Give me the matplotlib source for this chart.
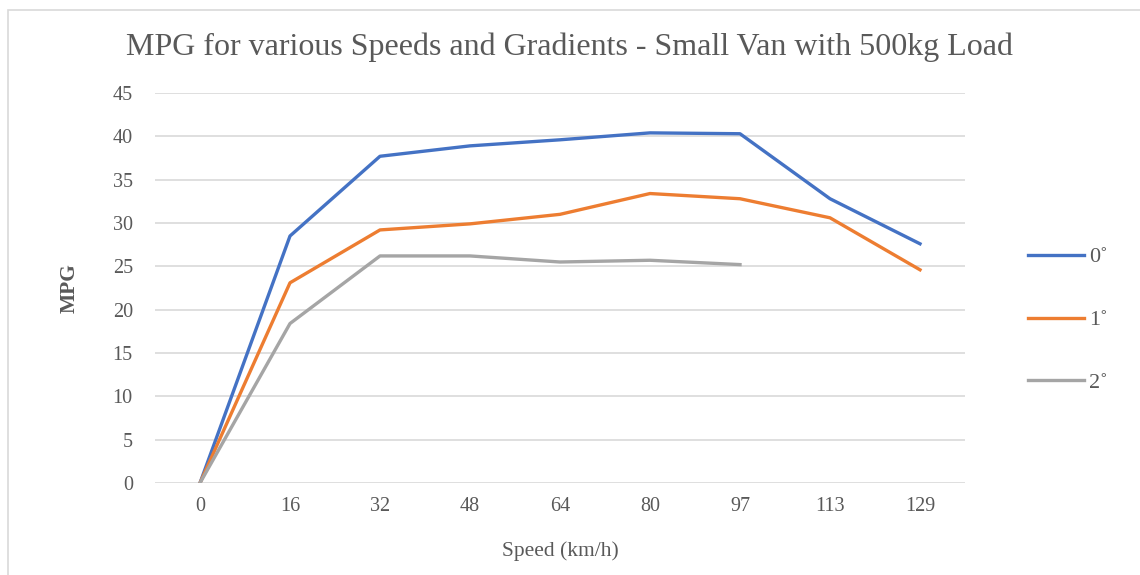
"""MPG for various speeds and gradients - small van with 500kg load."""
import numpy as np
import matplotlib
matplotlib.use("Agg")
import matplotlib.pyplot as plt
from matplotlib.patches import Rectangle

speeds = ["0", "16", "32", "48", "64", "80", "97", "113", "129"]
mpg_0deg = [0, 28.5, 37.7, 38.9, 39.6, 40.4, 40.3, 32.8, 27.6]
mpg_1deg = [0, 23.1, 29.2, 29.9, 31.0, 33.4, 32.8, 30.6, 24.6]
mpg_2deg = [0, 18.4, 26.2, 26.2, 25.5, 25.7, 25.2, np.nan, np.nan]
series_labels = ["0˚", "1˚", "2˚"]
colors = ["#4472C4", "#ED7D31", "#A5A5A5"]

plt.rcParams["font.family"] = ["Liberation Serif", "DejaVu Serif"]
text_color = "#595959"

fig = plt.figure(figsize=(11.4, 5.75), dpi=100)
ax = fig.add_axes([155 / 1140, 1 - 483 / 575, 810 / 1140, 390 / 575])

x = np.arange(len(speeds))
for vals, lab, c in zip([mpg_0deg, mpg_1deg, mpg_2deg], series_labels, colors):
    ax.plot(x, vals, color=c, linewidth=2.4, label=lab, solid_joinstyle="round")

ax.set_xlim(-0.5, len(speeds) - 0.5)
ax.set_ylim(0, 45)
ax.set_yticks(np.arange(0, 46, 5))
ax.set_xticks(x, speeds)
ax.grid(axis="y", color="#d9d9d9", linewidth=1.2)
ax.set_axisbelow(True)
for s in ax.spines.values():
    s.set_visible(False)
ax.tick_params(length=0, labelsize=14.5, colors=text_color, pad=10)
ax.tick_params(axis="y", pad=16)

ax.set_xlabel("Speed (km/h)", fontsize=15.5, color=text_color, labelpad=18)
ax.set_ylabel("MPG", fontsize=15.5, color=text_color, fontweight="bold", labelpad=24)
fig.text(0.5, 1 - 47 / 575, "MPG for various Speeds and Gradients - Small Van with 500kg Load",
         ha="center", va="center", fontsize=23, color=text_color)

fig.legend(loc="center left", bbox_to_anchor=(1008 / 1140, 1 - 320 / 575),
           frameon=False, fontsize=16, handlelength=2.5, handletextpad=0.25,
           labelspacing=1.9, labelcolor=text_color)

fig.patches.append(Rectangle((8 / 1140, -0.01), 1.0, 1 - 10 / 575 + 0.01,
                             transform=fig.transFigure, fill=False,
                             edgecolor="#d9d9d9", linewidth=1.2))

fig.savefig("out.png", dpi=100)
